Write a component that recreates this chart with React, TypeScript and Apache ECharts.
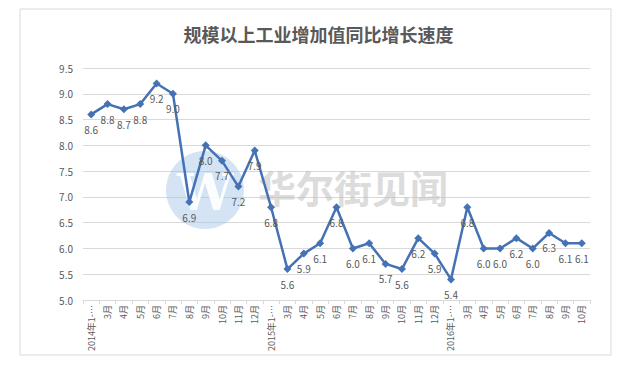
import React, { useEffect, useRef } from "react";
import * as echarts from "echarts";

const categories = [
  "2014年1-2月", "3月", "4月", "5月", "6月", "7月", "8月", "9月", "10月", "11月", "12月",
  "2015年1-2月", "3月", "4月", "5月", "6月", "7月", "8月", "9月", "10月", "11月", "12月",
  "2016年1-2月", "3月", "4月", "5月", "6月", "7月", "8月", "9月", "10月",
];
const growth = [
  8.6, 8.8, 8.7, 8.8, 9.2, 9.0, 6.9, 8.0, 7.7, 7.2, 7.9,
  6.8, 5.6, 5.9, 6.1, 6.8, 6.0, 6.1, 5.7, 5.6, 6.2, 5.9,
  5.4, 6.8, 6.0, 6.0, 6.2, 6.0, 6.3, 6.1, 6.1,
];
const titleText = "规模以上工业增加值同比增长速度";
const watermarkText = "华尔街见闻";

export default function App() {
  const ref = useRef<HTMLDivElement>(null);
  useEffect(() => {
    if (!ref.current) return;
    const chart = echarts.init(ref.current, null, { renderer: "svg" });
    const font = "'Noto Sans CJK SC', 'Noto Sans', sans-serif";
    chart.setOption({
      animation: false,
      backgroundColor: "#ffffff",
      textStyle: { fontFamily: font },
      title: {
        text: titleText,
        left: "center",
        top: 20,
        textStyle: { fontSize: 18, fontWeight: "bold", color: "#595959", fontFamily: font },
      },
      graphic: [
        {
          type: "rect",
          z: 0,
          shape: { x: 20, y: 9, width: 591, height: 346 },
          style: { fill: "none", stroke: "#d9d9d9", lineWidth: 1 },
        },
        {
          type: "circle",
          z: 1,
          shape: { cx: 205, cy: 190, r: 39 },
          style: { fill: "rgba(160,195,230,0.45)" },
        },
        {
          type: "text",
          z: 1,
          x: 205,
          y: 192,
          style: {
            text: "W",
            fill: "rgba(255,255,255,0.9)",
            font: "bold 50px 'DejaVu Serif', serif",
            textAlign: "center",
            textVerticalAlign: "middle",
          },
        },
        {
          type: "text",
          z: 1,
          x: 258,
          y: 186,
          style: {
            text: watermarkText,
            fill: "rgba(190,190,190,0.55)",
            font: "bold 38px 'Noto Sans CJK SC', sans-serif",
            textAlign: "left",
            textVerticalAlign: "middle",
          },
        },
      ],
      grid: { left: 83, right: 47, top: 68, bottom: 72, containLabel: false },
      xAxis: {
        type: "category",
        data: categories,
        boundaryGap: true,
        axisLine: { lineStyle: { color: "#d9d9d9" } },
        axisTick: { show: true, length: 4, lineStyle: { color: "#d9d9d9" } },
        axisLabel: {
          rotate: 90,
          interval: 0,
          fontSize: 9,
          color: "#595959",
          margin: 5,
          formatter: (v: string) => (v.length > 4 ? v.slice(0, 7) + "…" : v),
        },
      },
      yAxis: {
        type: "value",
        min: 5,
        max: 9.5,
        interval: 0.5,
        axisLine: { show: false },
        axisTick: { show: false },
        axisLabel: {
          fontSize: 10,
          color: "#595959",
          margin: 10,
          formatter: (v: number) => v.toFixed(1),
        },
        splitLine: { lineStyle: { color: "#d9d9d9" } },
      },
      series: [
        {
          type: "line",
          data: growth,
          z: 3,
          symbol: "diamond",
          symbolSize: 8,
          itemStyle: { color: "#4472b4" },
          lineStyle: { color: "#4472b4", width: 2.5 },
          label: {
            show: true,
            position: "bottom",
            distance: 6,
            fontSize: 10,
            color: "#595959",
            formatter: (p: any) => Number(p.value).toFixed(1),
          },
        },
      ],
    });
    return () => chart.dispose();
  }, []);
  return (
    <div
      ref={ref}
      style={{ position: "fixed", left: 0, top: 0, width: 637, height: 372, background: "#fff" }}
    />
  );
}
